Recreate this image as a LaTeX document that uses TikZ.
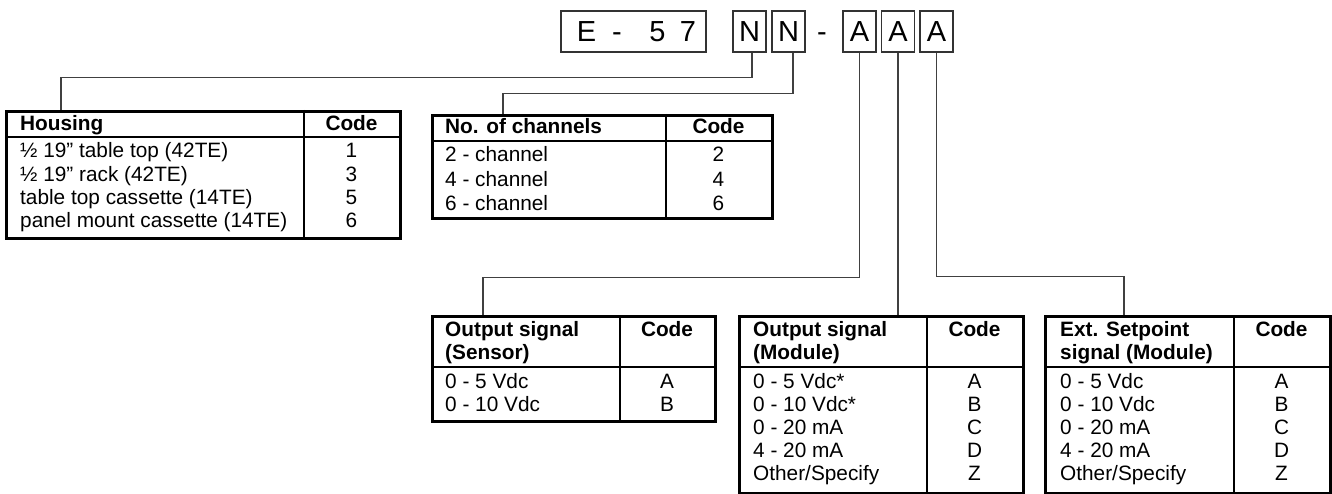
\documentclass[tikz,border=0pt]{standalone}
\usepackage{fontspec}
\setmainfont{Liberation Sans}
\usetikzlibrary{calc}

\begin{document}
\begin{tikzpicture}[
  x=1pt, y=-1pt,
  every node/.style={inner sep=0pt, font=\fontsize{20.8}{23}\selectfont},
  codebox/.style={draw=black!80, line width=1.3pt, minimum width=33pt, minimum height=41pt, font=\fontsize{29}{30}\selectfont},
  tbl/.style={draw, line width=2.6pt, anchor=north west},
  rule/.style={line width=2pt},
  link/.style={draw=black!75, line width=1.4pt}
]
  \useasboundingbox (0,0) rectangle (1332,494);

  % Code boxes
  \node[codebox, minimum width=145pt] (E57) at (633.5,31.5) {\hspace*{6pt}E\hspace{15.9pt}-\hspace{27.6pt}5\hspace{14.4pt}7};
  \node[codebox] (N1) at (749.5,31.5) {N};
  \node[codebox] (N2) at (788.5,31.5) {N};
  \node[anchor=base, font=\fontsize{29}{30}\selectfont] (sep) at (822,42) {-};
  \node[codebox] (A1) at (859.5,31.5) {A};
  \node[codebox] (A2) at (898,31.5) {A};
  \node[codebox] (A3) at (936.5,31.5) {A};

  % Housing table
  \node[tbl, minimum width=394pt, minimum height=127pt] (housing) at (5,110) {};
  \draw[rule] (5,137) -- (399,137);
  \draw[rule] (304,110) -- (304,237);
  \node[anchor=base west] (housh) at (20,131) {\bfseries Housing};
  \node[anchor=base] (housc) at (351.5,131) {\bfseries Code};
  \foreach \t/\c [count=\i] in {½ 19” table top (42TE)/1, ½ 19” rack (42TE)/3, table top cassette (14TE)/5, panel mount cassette (14TE)/6} {
    \node[anchor=base west] (hous\i) at (20,{158+23.3*(\i-1)}) {\t};
    \node[anchor=base] (houc\i) at (351.5,{158+23.3*(\i-1)}) {\c};
  }

  % Channels table
  \node[tbl, minimum width=340pt, minimum height=103pt] (chan) at (431,114) {};
  \draw[rule] (431,141) -- (771,141);
  \draw[rule] (666,114) -- (666,217);
  \node[anchor=base west] (chanh) at (445,134) {\bfseries No. of channels};
  \node[anchor=base] (chanc) at (718.5,134) {\bfseries Code};
  \foreach \t/\c [count=\i] in {2 - channel/2, 4 - channel/4, 6 - channel/6} {
    \node[anchor=base west] (chans\i) at (445,{162+24.3*(\i-1)}) {\t};
    \node[anchor=base] (chanc\i) at (718.5,{162+24.3*(\i-1)}) {\c};
  }

  % Output signal (Sensor) table
  \node[tbl, minimum width=283pt, minimum height=105pt] (sens) at (431,315) {};
  \draw[rule] (431,367) -- (714,367);
  \draw[rule] (620,315) -- (620,420);
  \node[anchor=base west] (sensh1) at (445,336) {\bfseries Output signal};
  \node[anchor=base west] (sensh2) at (445,359) {\bfseries (Sensor)};
  \node[anchor=base] (sensc) at (667,336) {\bfseries Code};
  \foreach \t/\c [count=\i] in {0 - 5 Vdc/A, 0 - 10 Vdc/B} {
    \node[anchor=base west] (senss\i) at (445,{388+23.5*(\i-1)}) {\t};
    \node[anchor=base] (sensc\i) at (667,{388+23.5*(\i-1)}) {\c};
  }

  % Output signal (Module) table
  \node[tbl, minimum width=284pt, minimum height=177pt] (mod) at (738,315) {};
  \draw[rule] (738,367) -- (1022,367);
  \draw[rule] (927,315) -- (927,492);
  \node[anchor=base west] (modh1) at (753,336) {\bfseries Output signal};
  \node[anchor=base west] (modh2) at (753,359) {\bfseries (Module)};
  \node[anchor=base] (modc) at (974.5,336) {\bfseries Code};
  \foreach \t/\c [count=\i] in {0 - 5 Vdc*/A, 0 - 10 Vdc*/B, 0 - 20 mA/C, 4 - 20 mA/D, Other\slash Specify/Z} {
    \node[anchor=base west] (mods\i) at (753,{388+23*(\i-1)}) {\t};
    \node[anchor=base] (modc\i) at (974.5,{388+23*(\i-1)}) {\c};
  }

  % Ext. Setpoint signal (Module) table
  \node[tbl, minimum width=285pt, minimum height=177pt] (ext) at (1044,315) {};
  \draw[rule] (1044,367) -- (1329,367);
  \draw[rule] (1234,315) -- (1234,492);
  \node[anchor=base west] (exth1) at (1060,336) {\bfseries Ext. Setpoint};
  \node[anchor=base west] (exth2) at (1060,359) {\bfseries signal (Module)};
  \node[anchor=base] (extc) at (1281.5,336) {\bfseries Code};
  \foreach \t/\c [count=\i] in {0 - 5 Vdc/A, 0 - 10 Vdc/B, 0 - 20 mA/C, 4 - 20 mA/D, Other\slash Specify/Z} {
    \node[anchor=base west] (exts\i) at (1060,{388+23*(\i-1)}) {\t};
    \node[anchor=base] (extc\i) at (1281.5,{388+23*(\i-1)}) {\c};
  }

  % Connectors
  \coordinate (housin) at (61,110);
  \coordinate (chanin) at (503,114);
  \coordinate (sensin) at (483,315);
  \coordinate (modin) at (898,315);
  \coordinate (extin) at (1124,315);
  \draw[link] ([xshift=2.5pt]N1.south) -- ++(0,25) -| (housin);
  \draw[link] ([xshift=4.5pt]N2.south) -- ++(0,41) -| (chanin);
  \draw[link] (A1.south) -- ++(0,225) -| (sensin);
  \draw[link] (A2.south) -- (modin);
  \draw[link] (A3.south) -- ++(0,224) -| (extin);
\end{tikzpicture}
\end{document}
